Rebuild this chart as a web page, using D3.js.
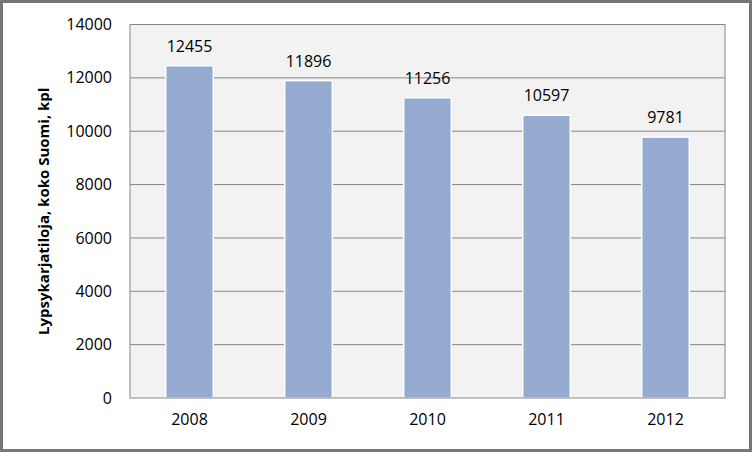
<!DOCTYPE html>
<html><head><meta charset="utf-8">
<script src="https://cdn.jsdelivr.net/npm/d3@7"></script>
<style>body{margin:0;background:#fff}</style>
</head><body><div id="chart-area"></div>
<script>
const years = ["2008", "2009", "2010", "2011", "2012"];
const values = [12455, 11896, 11256, 10597, 9781];
const yTicks = [0, 2000, 4000, 6000, 8000, 10000, 12000, 14000];

const W = 752, H = 452;
const margin = { left: 130, right: 27, top: 24.5, bottom: 54 };
const width = W - margin.left - margin.right,
    height = H - margin.top - margin.bottom;
const font = "'Open Sans', 'Liberation Sans', sans-serif";

const svg = d3.select("#chart-area").append("svg")
    .attr("width", W).attr("height", H)
    .style("font-family", font);

// outer frame
svg.append("rect").attr("x", 1.5).attr("y", 1.5)
    .attr("width", W - 3).attr("height", H - 3)
    .attr("fill", "#fff").attr("stroke", "#767676").attr("stroke-width", 3);

const g = svg.append("g").attr("transform", `translate(${margin.left},${margin.top})`);

const x = d3.scaleBand().domain(years).range([0, width]).paddingInner(0.6).paddingOuter(0.3);
const y = d3.scaleLinear().domain([0, 14000]).range([height, 0]);

g.append("rect").attr("width", width).attr("height", height).attr("fill", "#f2f2f2");

// gridlines
g.selectAll(".grid").data(yTicks.slice(1)).enter().append("line")
    .attr("x1", 0).attr("x2", width)
    .attr("y1", d => y(d)).attr("y2", d => y(d))
    .attr("stroke", "#868686").attr("stroke-width", 1);

g.selectAll(".bar").data(values).enter().append("rect")
    .attr("x", (d, i) => x(years[i]))
    .attr("y", d => y(d))
    .attr("width", x.bandwidth())
    .attr("height", d => height - y(d))
    .attr("fill", "#95abd2").attr("stroke", "#fff").attr("stroke-width", 1.5);

g.selectAll(".lbl").data(values).enter().append("text")
    .attr("x", (d, i) => x(years[i]) + x.bandwidth() / 2)
    .attr("y", d => y(d) - 14)
    .attr("text-anchor", "middle").attr("font-size", 16).attr("fill", "#000")
    .text(d => d);

g.append("rect").attr("width", width).attr("height", height)
    .attr("fill", "none").attr("stroke", "#868686");

// axes
const yAxis = g.append("g").call(d3.axisLeft(y).tickValues(yTicks).tickFormat(d3.format("d")).tickSize(0).tickPadding(18));
yAxis.select(".domain").remove();
yAxis.attr("font-size", 16).attr("font-family", font);
yAxis.selectAll("text").attr("fill", "#000");

const xAxis = g.append("g").attr("transform", `translate(0,${height})`)
    .call(d3.axisBottom(x).tickSize(0).tickPadding(16));
xAxis.select(".domain").remove();
xAxis.attr("font-size", 16).attr("font-family", font);
xAxis.selectAll("text").attr("fill", "#000");

svg.append("text")
    .attr("transform", `translate(49,${margin.top + height / 2}) rotate(-90)`)
    .attr("text-anchor", "middle").attr("font-size", 15).attr("font-weight", "bold")
    .text("Lypsykarjatiloja, koko Suomi, kpl");
</script></body></html>
